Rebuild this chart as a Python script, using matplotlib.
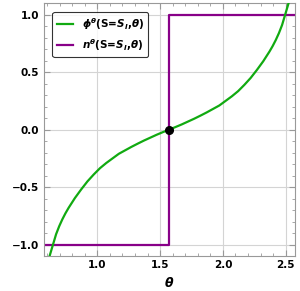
import numpy as np
import matplotlib
matplotlib.use("Agg")
import matplotlib.pyplot as plt
from matplotlib.ticker import MultipleLocator

# phi curve (antisymmetric about theta = pi/2)
theta = [0.611, 0.626, 0.641, 0.656, 0.671, 0.696, 0.721, 0.746, 0.771,
         0.821, 0.871, 0.921, 0.971,
         1.021, 1.071, 1.121, 1.171, 1.221, 1.271, 1.321, 1.371, 1.421,
         1.471, 1.521, 1.571, 1.621, 1.671, 1.721, 1.771, 1.821, 1.871,
         1.921, 1.971, 2.021, 2.071, 2.121, 2.171, 2.221, 2.271, 2.321,
         2.371, 2.396, 2.421, 2.446, 2.471, 2.486, 2.501, 2.516, 2.531]
phi = [-1.13, -1.075, -1.02, -0.965, -0.91, -0.84, -0.78, -0.727, -0.68,
       -0.595, -0.52, -0.45, -0.39,
       -0.335, -0.29, -0.25, -0.21, -0.18, -0.15, -0.122, -0.095, -0.07,
       -0.045, -0.022, 0.0, 0.022, 0.045, 0.07, 0.095, 0.122, 0.15,
       0.18, 0.21, 0.25, 0.29, 0.335, 0.39, 0.45, 0.52, 0.595,
       0.68, 0.727, 0.78, 0.84, 0.91, 0.965, 1.02, 1.075, 1.13]

# step function n
n_theta = [0.5708, 1.5708, 1.5708, 2.5708]
n_vals = [-1, -1, 1, 1]

# marked point
pt_theta = [1.5708]
pt_val = [0.0]

xticks = [1.0, 1.5, 2.0, 2.5]
yticks = [-1.0, -0.5, 0.0, 0.5, 1.0]

fig = plt.figure(figsize=(3.0, 2.91), dpi=100)
ax = fig.add_axes([0.145, 0.12, 0.837, 0.869])

ax.plot(theta, phi, color="#11aa11", lw=1.6,
        label=r"$\mathbfit{\phi}^{\mathbfit{\theta}}$(S=$\mathbfit{S}_{\mathbfit{I}}$,$\mathbfit{\theta}$)", zorder=3)
ax.plot(n_theta, n_vals, color="#880088", lw=1.6,
        label=r"$\mathbfit{n}^{\mathbfit{\theta}}$(S=$\mathbfit{S}_{\mathbfit{I}}$,$\mathbfit{\theta}$)", zorder=2)
ax.plot(pt_theta, pt_val, "o", color="black", ms=5.5, zorder=4)

ax.set_xlim(0.5708, 2.5708)
ax.set_ylim(-1.1, 1.1)
ax.set_xticks(xticks)
ax.set_yticks(yticks)
ax.xaxis.set_minor_locator(MultipleLocator(0.1))
ax.yaxis.set_minor_locator(MultipleLocator(0.1))
ax.grid(True, which="major", color="#d4d4d4", lw=0.8)
ax.set_axisbelow(True)

ax.tick_params(which="both", direction="in", top=True, right=True, color="#999999",
               labelsize=7.5, pad=3)
ax.tick_params(which="major", length=4)
ax.tick_params(which="minor", length=2)
for lab in ax.get_xticklabels() + ax.get_yticklabels():
    lab.set_fontweight("bold")
for s in ax.spines.values():
    s.set_color("#999999")

ax.set_xlabel(r"$\mathbfit{\theta}$", fontsize=9, labelpad=4)

leg = ax.legend(loc="upper left", bbox_to_anchor=(0.015, 0.985),
                prop={"size": 7.5, "weight": "bold"},
                frameon=True, fancybox=True, edgecolor="black", handlelength=1.6,
                borderpad=0.4, labelspacing=0.5)
leg.get_frame().set_linewidth(0.8)

fig.savefig("out.png", dpi=100)
